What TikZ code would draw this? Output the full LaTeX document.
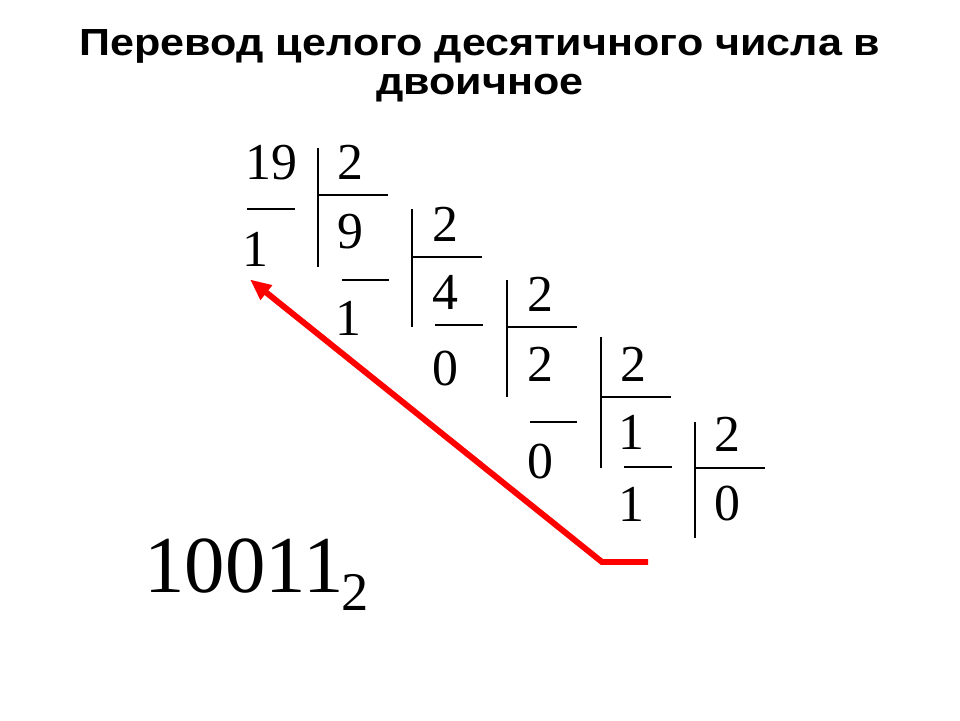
\documentclass[tikz,border=0pt]{standalone}
\usepackage{fontspec}
\setmainfont{Liberation Serif}
\newfontfamily\titlefont[FakeStretch=1.14]{Liberation Sans}
\usetikzlibrary{arrows.meta,positioning}

\tikzset{
  digit/.style={font=\fontsize{29.5}{30}\selectfont, inner sep=0pt},
  heading/.style={anchor=base, font=\titlefont\bfseries\fontsize{21.5}{22}\selectfont},
  bar/.style={line width=1.1pt},
  back/.style={red, line width=3.4pt, -{Triangle[length=12pt,width=10pt]}},
}

\begin{document}
\begin{tikzpicture}[x=0.02cm, y=-0.02cm]
  \useasboundingbox (0,0) rectangle (960,720);
  \node (title1) [heading] at (480,55) {Перевод целого десятичного числа в};
  \node (title2) [heading] at (480,94) {двоичное};
  % dividends, divisors, remainders
  \node[digit] (n0) at (271,163) {19};
  \node[digit] (r0) at (255,249) {1};
  \node[digit] (d1) at (350,162) {2};
  \node[digit] (q1) at (350,232) {9};
  \node[digit] (r1) at (348,318) {1};
  \node[digit] (d2) at (445,224) {2};
  \node[digit] (q2) at (445,292) {4};
  \node[digit] (r2) at (445,369) {0};
  \node[digit] (d3) at (540,294) {2};
  \node[digit] (q3) at (540,364) {2};
  \node[digit] (r3) at (540,462) {0};
  \node[digit] (d4) at (633,364) {2};
  \node[digit] (q4) at (631,432) {1};
  \node[digit] (r4) at (631,504) {1};
  \node[digit] (d5) at (727,434) {2};
  \node[digit] (q5) at (727,504) {0};
  % the corners of the divisions
  \foreach \x/\ya/\yb/\yc in {318/148/267/195, 412/209/327/257, 507/280/397/327,
                              601/337/468/397, 695/422/538/468}
    \draw[bar] (\x,\ya) -- (\x,\yb) (\x,\yc) -- +(70,0);
  \draw[bar] (247,209) -- (295,209)
             (342,280) -- (389,280)
             (435,325) -- (483,325)
             (530,422) -- (577,422)
             (624,467) -- (672,467);
  % remainders read backwards
  \coordinate (tail) at (648,562);
  \coordinate (bend) at (602,562);
  \draw[back] (tail) -- (bend) -- ([shift={(-5,13)}]r0.south);
  \node (res) [anchor=base west, inner sep=0pt, font=\fontsize{46}{46}\selectfont] at (144,592) {10011};
  \node (radix) [anchor=base west, inner sep=0pt, font=\fontsize{31}{31}\selectfont] at ([shift={(-3,18)}]res.base east) {2};
\end{tikzpicture}
\end{document}
